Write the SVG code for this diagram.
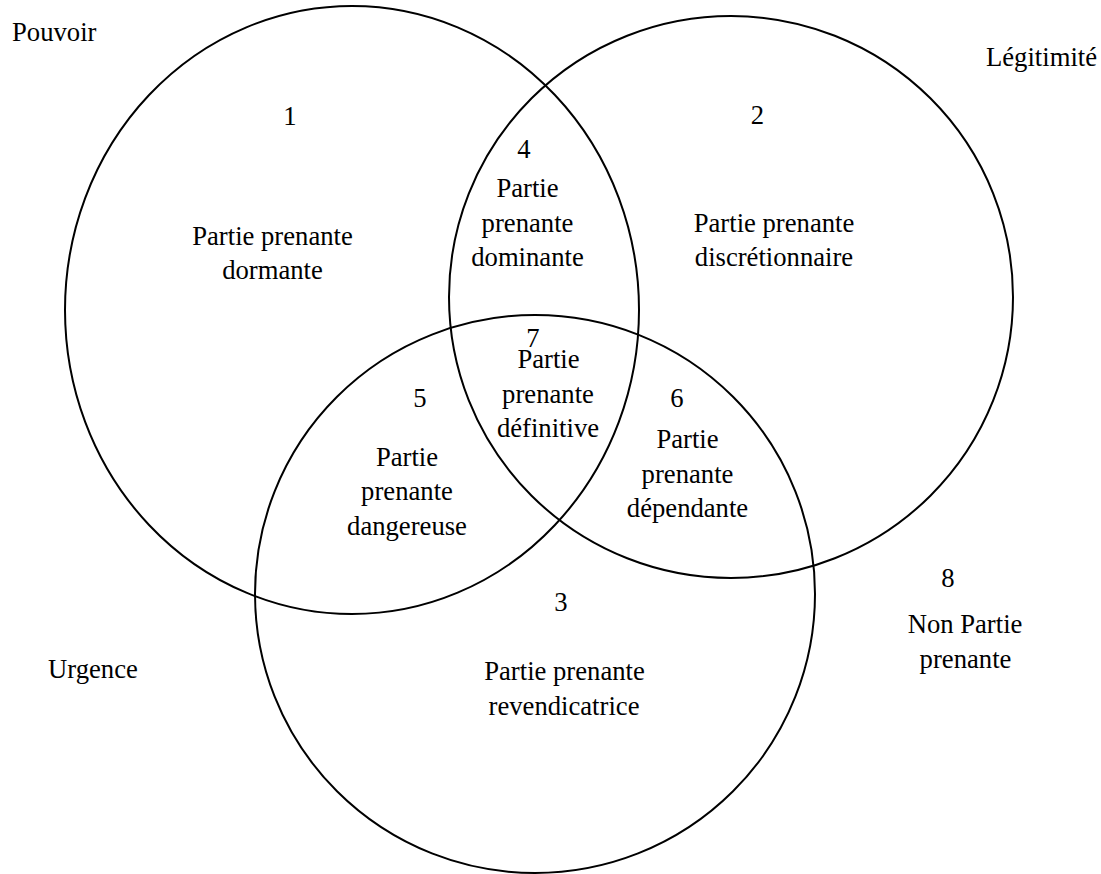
<svg xmlns="http://www.w3.org/2000/svg" width="1101" height="874" viewBox="0 0 1101 874">
  <style>
    .set { fill: none; stroke: #000; stroke-width: 2; }
    .lbl { font-family: 'Times New Roman', Tinos, 'Liberation Serif', 'Noto Serif', 'DejaVu Serif', serif; font-size: 26.67px; fill: #000; }
    .c { text-anchor: middle; }
  </style>
  <rect width="1101" height="874" fill="#fff"/>

  <!-- The three attribute sets -->
  <g id="set-pouvoir" class="lbl">
    <ellipse class="set" cx="352" cy="310" rx="287" ry="304"/>
    <text x="12" y="41">Pouvoir</text>
  </g>
  <g id="set-legitimite" class="lbl">
    <ellipse class="set" cx="731" cy="297" rx="282" ry="281"/>
    <text x="986" y="66">Légitimité</text>
  </g>
  <g id="set-urgence" class="lbl">
    <ellipse class="set" cx="535" cy="594" rx="280" ry="279"/>
    <text x="48" y="678">Urgence</text>
  </g>

  <!-- Stakeholder classes, one per region -->
  <g id="region-1" class="lbl c">
    <text x="290" y="125">1</text>
    <text x="272.5" y="245">Partie prenante</text>
    <text x="272.5" y="279">dormante</text>
  </g>
  <g id="region-2" class="lbl c">
    <text x="757.5" y="124">2</text>
    <text x="774" y="232">Partie prenante</text>
    <text x="774" y="266">discrétionnaire</text>
  </g>
  <g id="region-3" class="lbl c">
    <text x="561" y="611">3</text>
    <text x="564.5" y="680">Partie prenante</text>
    <text x="564" y="714.5">revendicatrice</text>
  </g>
  <g id="region-4" class="lbl c">
    <text x="524" y="158">4</text>
    <text x="527.5" y="197">Partie</text>
    <text x="527.5" y="231.5">prenante</text>
    <text x="527.5" y="266">dominante</text>
  </g>
  <g id="region-5" class="lbl c">
    <text x="420" y="407">5</text>
    <text x="407" y="466">Partie</text>
    <text x="407" y="500">prenante</text>
    <text x="407" y="535">dangereuse</text>
  </g>
  <g id="region-6" class="lbl c">
    <text x="677" y="407">6</text>
    <text x="687.5" y="448">Partie</text>
    <text x="687.5" y="483">prenante</text>
    <text x="687.5" y="517">dépendante</text>
  </g>
  <g id="region-7" class="lbl c">
    <text x="533" y="347">7</text>
    <text x="548.5" y="368">Partie</text>
    <text x="548" y="402.5">prenante</text>
    <text x="548" y="437">définitive</text>
  </g>
  <g id="region-8" class="lbl c">
    <text x="948" y="587">8</text>
    <text x="965" y="633">Non Partie</text>
    <text x="965.5" y="668">prenante</text>
  </g>
</svg>
